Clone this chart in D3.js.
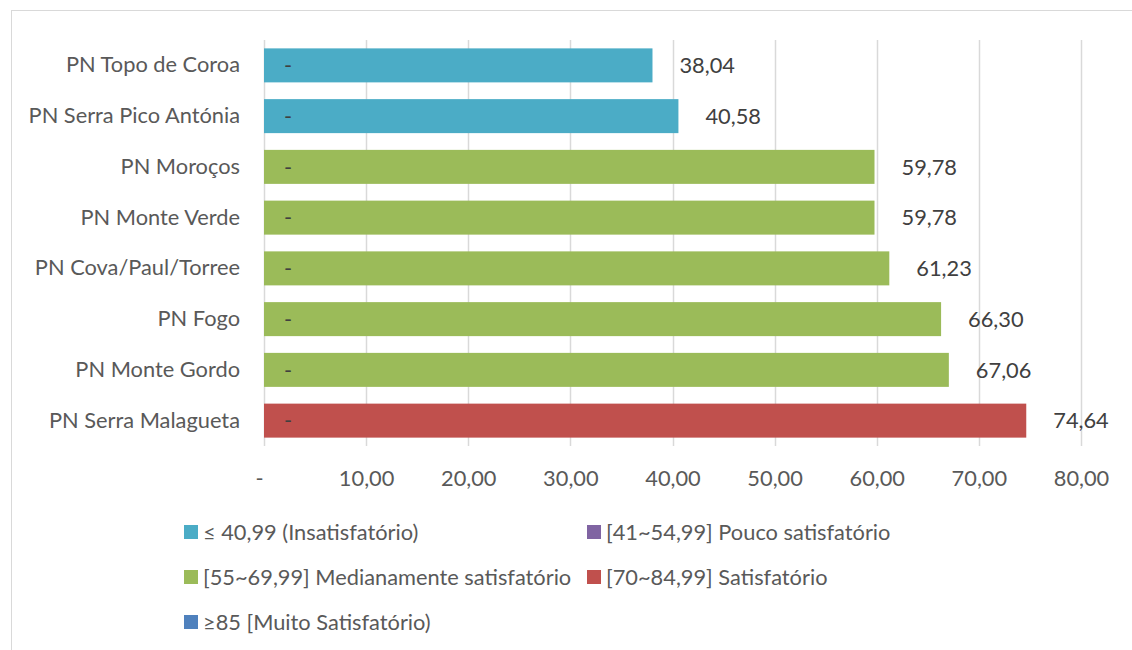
<!DOCTYPE html>
<html>
<head>
<meta charset="utf-8">
<script src="https://cdn.jsdelivr.net/npm/d3@7"></script>
<style>
  html, body { margin: 0; padding: 0; background: #fff; }
  svg { display: block; }
  text { font-family: Lato, "Open Sans", sans-serif; }
</style>
</head>
<body>
<svg id="chart" width="1132" height="650"></svg>
<script>
// ---- data ----
const categories = ["PN Topo de Coroa", "PN Serra Pico Antónia", "PN Moroços", "PN Monte Verde",
  "PN Cova/Paul/Torree", "PN Fogo", "PN Monte Gordo", "PN Serra Malagueta"];
const values = [38.04, 40.58, 59.78, 59.78, 61.23, 66.30, 67.06, 74.64];
const classOf = [0, 0, 2, 2, 2, 2, 2, 3];
const classLabels = ["≤ 40,99 (Insatisfatório)", "[41~54,99] Pouco satisfatório",
  "[55~69,99] Medianamente satisfatório", "[70~84,99] Satisfatório", "≥85 [Muito Satisfatório)"];
const classColors = ["#4BACC6", "#8064A2", "#9BBB59", "#C0504D", "#4F81BD"];
const tickValues = [0, 10, 20, 30, 40, 50, 60, 70, 80];

// ---- layout ----
const FS = 21.8;
const svg = d3.select("#chart");
const fmt = v => v === 0 ? "-" : v.toFixed(2).replace(".", ",");

svg.append("rect").attr("x", 11.5).attr("y", 10.5).attr("width", 1140).attr("height", 660)
  .attr("fill", "#fff").attr("stroke", "#d9d9d9").attr("stroke-width", 1);

const x = d3.scaleLinear().domain([0, 80]).range([264, 1081]);
const y = d3.scaleBand().domain(categories).range([40, 446]).paddingInner(0.33).paddingOuter(0.165);

// gridlines
svg.append("g").selectAll("line").data(tickValues).join("line")
  .attr("x1", d => Math.round(x(d)) + 0.5).attr("x2", d => Math.round(x(d)) + 0.5)
  .attr("y1", 40).attr("y2", 446)
  .attr("stroke", "#d9d9d9").attr("stroke-width", 1.5);

// tick labels via axis
const xAxis = d3.axisBottom(x).tickValues(tickValues).tickFormat(fmt).tickSize(0).tickPadding(0);
const gx = svg.append("g").attr("transform", "translate(0,478)").call(xAxis);
gx.select(".domain").remove();
gx.selectAll("text").attr("font-size", FS).attr("fill", "#595959")
  .attr("dy", "0.35em").attr("font-family", "Lato, 'Open Sans', sans-serif");
gx.selectAll(".tick").filter(d => d === 0).select("text").attr("dx", -5);

// category labels
const yAxis = d3.axisLeft(y).tickSize(0).tickPadding(0);
const gy = svg.append("g").attr("transform", "translate(240,0)").call(yAxis);
gy.select(".domain").remove();
gy.selectAll("text").attr("font-size", FS).attr("fill", "#595959")
  .attr("font-family", "Lato, 'Open Sans', sans-serif");

// bars
const rows = categories.map((c, i) => ({ c, v: values[i], k: classOf[i] }));
svg.append("g").selectAll("rect").data(rows).join("rect")
  .attr("x", x(0)).attr("y", d => y(d.c))
  .attr("width", d => x(d.v) - x(0)).attr("height", y.bandwidth())
  .attr("fill", d => classColors[d.k]);

// "-" labels inside bars
svg.append("g").selectAll("text").data(rows).join("text")
  .attr("x", x(0) + 24).attr("y", d => y(d.c) + y.bandwidth() / 2)
  .attr("dy", "0.35em").attr("text-anchor", "middle")
  .attr("font-size", FS).attr("fill", "#404040").text("-");

// value labels
svg.append("g").selectAll("text").data(rows).join("text")
  .attr("x", d => x(d.v) + 27).attr("y", d => y(d.c) + y.bandwidth() / 2)
  .attr("dy", "0.35em").attr("font-size", FS).attr("fill", "#404040")
  .text(d => fmt(d.v));

// legend
const legendPos = [[184, 532], [587, 532], [184, 577], [587, 577], [184, 622]];
const lg = svg.append("g").selectAll("g").data(classLabels).join("g")
  .attr("transform", (d, i) => `translate(${legendPos[i][0]},${legendPos[i][1]})`);
lg.append("rect").attr("x", 0).attr("y", -7).attr("width", 14).attr("height", 14)
  .attr("fill", (d, i) => classColors[i]);
lg.append("text").attr("x", 19).attr("y", 0).attr("dy", "0.35em")
  .attr("font-size", FS).attr("fill", "#595959").text(d => d);
</script>
</body>
</html>
